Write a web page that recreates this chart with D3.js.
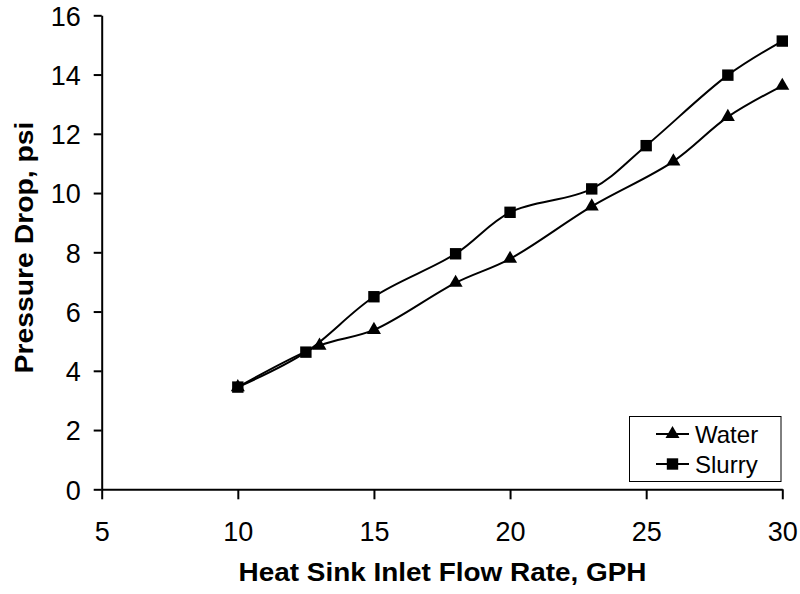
<!DOCTYPE html>
<html><head><meta charset="utf-8">
<script src="https://cdn.jsdelivr.net/npm/d3@7"></script>
<style>body{margin:0;background:#fff}svg{display:block}text{font-family:"Liberation Sans",Arial,sans-serif;fill:#000}</style>
</head><body><svg id="c" width="800" height="594"></svg>
<script>
const xTicks = [5, 10, 15, 20, 25, 30];
const yTicks = [0, 2, 4, 6, 8, 10, 12, 14, 16];
const waterFlow = [10, 13, 15, 18, 20, 23, 26, 28, 30];
const waterDrop = [3.45, 4.85, 5.38, 6.97, 7.78, 9.55, 11.07, 12.57, 13.62];
const slurryFlow = [10, 12.5, 15, 18, 20, 23, 25, 28, 30];
const slurryDrop = [3.45, 4.63, 6.5, 7.95, 9.35, 10.14, 11.6, 13.98, 15.13];
const seriesNames = ["Water", "Slurry"];
const xTitle = "Heat Sink Inlet Flow Rate, GPH";
const yTitle = "Pressure Drop, psi";

const svg = d3.select("#c");
const x = d3.scaleLinear().domain([5, 30]).range([101.7, 782.3]);
const y = d3.scaleLinear().domain([0, 16]).range([489.3, 15.3]);

// axes
const xa = svg.append("g").attr("transform", `translate(0,${y(0)})`)
  .call(d3.axisBottom(x).tickValues(xTicks).tickSize(10).tickPadding(24).tickSizeOuter(0));
const ya = svg.append("g").attr("transform", `translate(${x(5)},0)`)
  .call(d3.axisLeft(y).tickValues(yTicks).tickSize(8).tickPadding(13).tickSizeOuter(0));
[xa, ya].forEach(g => {
  g.select(".domain").attr("stroke", "#000").attr("stroke-width", 2);
  g.selectAll(".tick line").attr("stroke", "#000").attr("stroke-width", 2);
  g.selectAll(".tick text").attr("font-size", 27).attr("font-family", '"Liberation Sans",Arial,sans-serif').attr("fill", "#000");
});
xa.selectAll(".tick text").attr("dy", "0").attr("y", 52);
ya.selectAll(".tick text").attr("dy", "0.36em");

// titles
svg.append("text").attr("x", 442.5).attr("y", 581).attr("text-anchor", "middle")
  .attr("font-size", 26).attr("font-weight", "bold")
  .attr("textLength", 408).attr("lengthAdjust", "spacingAndGlyphs").text(xTitle);
svg.append("text").attr("transform", "translate(33,247.5) rotate(-90)").attr("text-anchor", "middle")
  .attr("font-size", 26).attr("font-weight", "bold")
  .attr("textLength", 252).attr("lengthAdjust", "spacingAndGlyphs").text(yTitle);

const line = d3.line().x(d => x(d[0])).y(d => y(d[1])).curve(d3.curveCatmullRom.alpha(0.5));
const water = waterFlow.map((f, i) => [f, waterDrop[i]]);
const slurry = slurryFlow.map((f, i) => [f, slurryDrop[i]]);

const tri = d3.symbol().type(d3.symbolTriangle).size(85);
const sq = d3.symbol().type(d3.symbolSquare).size(130);

svg.append("path").attr("d", line(slurry)).attr("fill", "none").attr("stroke", "#000").attr("stroke-width", 2);
svg.append("path").attr("d", line(water)).attr("fill", "none").attr("stroke", "#000").attr("stroke-width", 2);

svg.selectAll(".tw").data(water).enter().append("path")
  .attr("d", tri).attr("transform", d => `translate(${x(d[0])},${y(d[1])})`).attr("fill", "#000");
svg.selectAll(".sq").data(slurry).enter().append("path")
  .attr("d", sq).attr("transform", d => `translate(${x(d[0])},${y(d[1])})`).attr("fill", "#000");

// legend
const lg = svg.append("g");
lg.append("rect").attr("x", 629.5).attr("y", 416.5).attr("width", 151.5).attr("height", 65)
  .attr("fill", "#fff").attr("stroke", "#000").attr("stroke-width", 1);
const rows = [{name: seriesNames[0], sym: tri, cy: 434}, {name: seriesNames[1], sym: sq, cy: 464}];
rows.forEach(r => {
  lg.append("line").attr("x1", 656).attr("x2", 689).attr("y1", r.cy).attr("y2", r.cy)
    .attr("stroke", "#000").attr("stroke-width", 2);
  lg.append("path").attr("d", r.sym).attr("transform", `translate(672.5,${r.cy})`).attr("fill", "#000");
  lg.append("text").attr("x", 695).attr("y", r.cy + 8.5).attr("font-size", 24).text(r.name);
});
</script></body></html>
